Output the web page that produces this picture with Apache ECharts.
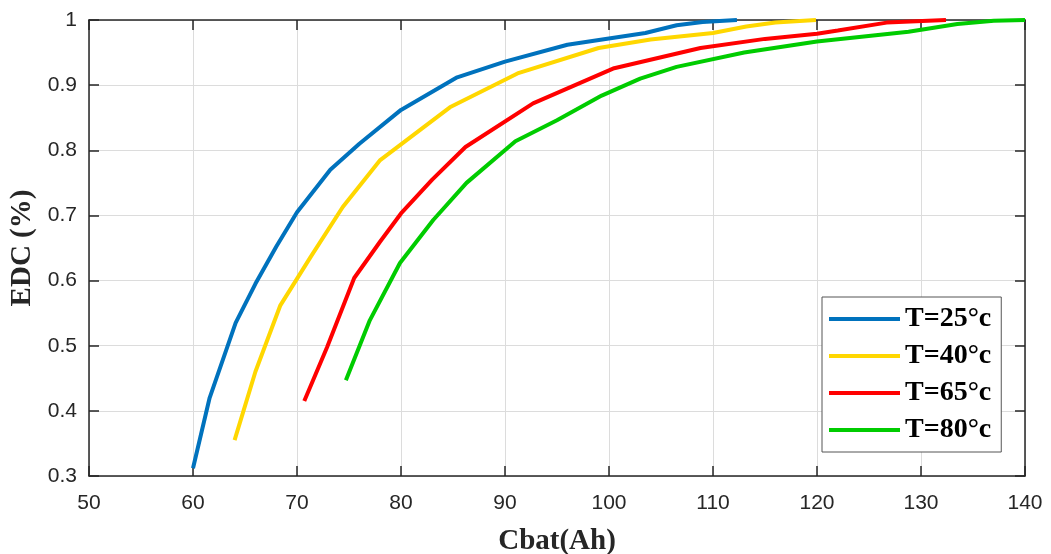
<!DOCTYPE html>
<html><head><meta charset="utf-8">
<script src="https://cdn.jsdelivr.net/npm/echarts@6/dist/echarts.min.js"></script>
<style>html,body{margin:0;padding:0;background:#fff}#c{width:1051px;height:554px}</style>
</head><body><div id="c"></div>
<script>
const names = ['T=25°c','T=40°c','T=65°c','T=80°c'];
const colors = ['#0072BD','#FFD700','#FF0000','#00CC00'];
const x25 = [60,61.6,64.1,66,68,70,73.2,76,80,85.4,90,96,103.5,106.5,109,112.3];
const y25 = [0.312,0.42,0.535,0.595,0.652,0.705,0.77,0.81,0.862,0.912,0.936,0.962,0.98,0.992,0.997,1.0];
const x40 = [64,66,68.4,71.3,74.4,78,84.7,91.2,99,104,110,113.2,116,119.9];
const y40 = [0.355,0.46,0.562,0.636,0.713,0.785,0.866,0.918,0.957,0.97,0.98,0.99,0.996,1.0];
const x65 = [70.7,72.9,75.5,78,80,83,86.2,92.7,100.5,108.8,115,120,122,126.7,132.4];
const y65 = [0.415,0.498,0.604,0.66,0.703,0.755,0.805,0.872,0.926,0.957,0.971,0.979,0.984,0.996,1.0];
const x80 = [74.7,77,79.9,83.1,86.3,91,95,99.3,103,106.5,113,120,128.8,133.5,137,140];
const y80 = [0.447,0.539,0.627,0.693,0.75,0.814,0.846,0.884,0.91,0.928,0.95,0.967,0.982,0.994,0.999,1.0];
const xTicks = {min:50, max:140, interval:10};
const yTicks = {min:0.3, max:1, interval:0.1};

const xs=[x25,x40,x65,x80], ys=[y25,y40,y65,y80];
const axisCol='#262626';
const chart = echarts.init(document.getElementById('c'));
const baseAxisLine={lineStyle:{color:axisCol,width:1.5}};
const tick={show:true,inside:true,length:10,lineStyle:{color:axisCol,width:1.5}};
chart.setOption({
  animation:false,
  grid:{left:89,right:26,top:20,bottom:78,containLabel:false,outerBoundsMode:'none'},
  xAxis:[{type:'value',min:xTicks.min,max:xTicks.max,interval:xTicks.interval,position:'bottom',
    axisLine:baseAxisLine,axisTick:tick,
    axisLabel:{color:axisCol,fontFamily:'Liberation Sans, Arial',fontSize:21,margin:17},
    splitLine:{show:true,lineStyle:{color:'#dcdcdc',width:1}},
    name:'Cbat(Ah)',nameLocation:'middle',nameGap:51,
    nameTextStyle:{fontFamily:'Liberation Serif, Times New Roman',fontWeight:'bold',fontSize:29,color:axisCol}},
   {type:'value',min:xTicks.min,max:xTicks.max,interval:xTicks.interval,position:'top',
    axisLine:baseAxisLine,axisTick:tick,axisLabel:{show:false},splitLine:{show:false}}],
  yAxis:[{type:'value',min:yTicks.min,max:yTicks.max,interval:yTicks.interval,position:'left',
    axisLine:baseAxisLine,axisTick:tick,
    axisLabel:{color:axisCol,fontFamily:'Liberation Sans, Arial',fontSize:21,margin:12,formatter:v=>String(+v.toFixed(1))},
    splitLine:{show:true,lineStyle:{color:'#dcdcdc',width:1}},
    name:'EDC (%)',nameLocation:'middle',nameGap:52,
    nameTextStyle:{fontFamily:'Liberation Serif, Times New Roman',fontWeight:'bold',fontSize:29,color:axisCol}},
   {type:'value',min:yTicks.min,max:yTicks.max,interval:yTicks.interval,position:'right',
    axisLine:baseAxisLine,axisTick:tick,axisLabel:{show:false},splitLine:{show:false}}],
  legend:{orient:'vertical',left:822,top:297,width:181,
    data:names,icon:'rect',itemWidth:71,itemHeight:4,itemGap:7,
    padding:[7,10,7,7],backgroundColor:'#fff',borderColor:'#555',borderWidth:1,borderRadius:0,
    textStyle:{fontFamily:'Liberation Serif, Times New Roman',fontWeight:'bold',fontSize:28,color:'#000',lineHeight:30,padding:[0,0,0,0]}},
  series:names.map((n,i)=>({name:n,type:'line',showSymbol:false,symbol:'none',
    color:colors[i],lineStyle:{width:4,color:colors[i]},
    data:xs[i].map((x,j)=>[x,ys[i][j]])}))
});
</script></body></html>
